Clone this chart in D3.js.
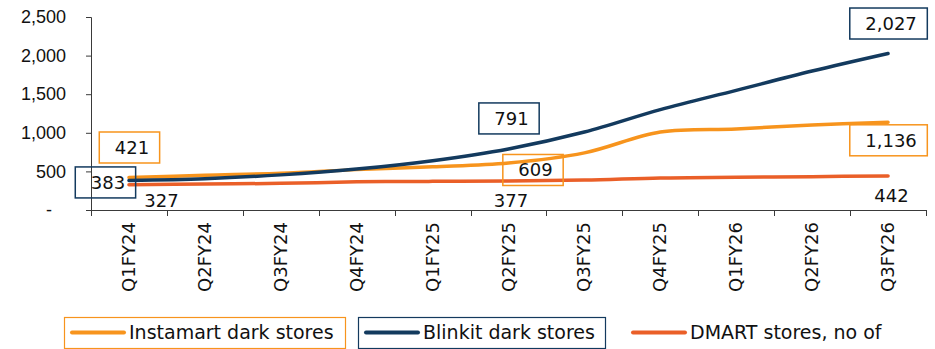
<!DOCTYPE html>
<html>
<head>
<meta charset="utf-8">
<script src="https://cdn.jsdelivr.net/npm/d3@7"></script>
<style>
  body { margin: 0; background: #fff; }
  svg { display: block; font-family: "DejaVu Sans", Verdana, sans-serif; }
  .axis path, .axis line { stroke: #3a3a3a; }
  .axis text { fill: #111; font-size: 18px; }
</style>
</head>
<body>
<svg id="chart" width="935" height="349"></svg>
<script>
const quarters = ["Q1FY24", "Q2FY24", "Q3FY24", "Q4FY24", "Q1FY25", "Q2FY25",
                  "Q3FY25", "Q4FY25", "Q1FY26", "Q2FY26", "Q3FY26"];

const instamart = [421, 450, 475, 523, 560, 609, 740, 1010, 1050, 1100, 1136];
const blinkit   = [383, 405, 455, 530, 639, 791, 1010, 1300, 1550, 1800, 2027];
const dmart     = [327, 336, 345, 365, 371, 377, 387, 415, 424, 432, 442];

const yTicks = [0, 500, 1000, 1500, 2000, 2500];

const seriesNames = ["Instamart dark stores", "Blinkit dark stores", "DMART stores, no of"];
const seriesColors = ["#f7941d", "#133a5e", "#ea5f28"];

const series = [
    {name: seriesNames[0], color: seriesColors[0], values: instamart},
    {name: seriesNames[1], color: seriesColors[1], values: blinkit},
    {name: seriesNames[2], color: seriesColors[2], values: dmart}
];

// which points get a value label, and where it sits relative to the point
const labels = [
    {s: 0, i: 0,  dx: 0.5,  dy: -30, box: true},
    {s: 1, i: 0,  dx: -23.5, dy: 2,  box: true},
    {s: 2, i: 0,  dx: 32.5, dy: 22,  box: false},
    {s: 1, i: 5,  dx: 0.5,  dy: -30.5, box: true},
    {s: 0, i: 5,  dx: 24.5, dy: 7,   box: true},
    {s: 2, i: 5,  dx: 2.5,  dy: 26,  box: false},
    {s: 1, i: 10, dx: 0.5,  dy: -30, box: true},
    {s: 0, i: 10, dx: 0.5,  dy: 18,  box: true},
    {s: 2, i: 10, dx: 3.5,  dy: 26,  box: false}
];

const svg = d3.select("#chart");
const fmt = d3.format(",");

let x = d3.scaleBand().domain(quarters).range([91, 926]);
let y = d3.scaleLinear().domain([0, 2500]).range([210, 17]);
let cx = q => x(q) + x.bandwidth() / 2;

// y axis
let yAxis = svg.append("g")
    .attr("class", "axis")
    .attr("transform", "translate(91,0)")
    .call(d3.axisLeft(y).tickValues(yTicks).tickSize(5).tickPadding(20)
        .tickFormat(d => d == 0 ? "-" : fmt(d)));
yAxis.selectAll("text").filter(d => d == 0).attr("dx", -14);

// x axis, ticks on category boundaries
let xAxis = svg.append("g")
    .attr("class", "axis")
    .attr("transform", "translate(0,210)");
xAxis.append("line").attr("x1", 91).attr("x2", 926).attr("y1", 0.5).attr("y2", 0.5);
xAxis.selectAll(".bound").data(d3.range(quarters.length + 1)).enter().append("line")
    .attr("class", "bound")
    .attr("x1", i => Math.round(91 + i * x.bandwidth()) + 0.5)
    .attr("x2", i => Math.round(91 + i * x.bandwidth()) + 0.5)
    .attr("y1", 0).attr("y2", 6);
xAxis.selectAll(".qlab").data(quarters).enter().append("text")
    .attr("class", "qlab")
    .attr("transform", d => `translate(${cx(d) + 6},12) rotate(-90)`)
    .attr("text-anchor", "end")
    .text(d => d);

// lines
let line = d3.line()
    .x((d, i) => cx(quarters[i]))
    .y(d => y(d))
    .curve(d3.curveCatmullRom.alpha(0.5));

// draw DMART first, then Instamart, Blinkit on top
[2, 0, 1].forEach(k => {
    svg.append("path")
        .attr("d", line(series[k].values))
        .attr("fill", "none")
        .attr("stroke", series[k].color)
        .attr("stroke-width", 3.5)
        .attr("stroke-linecap", "round")
        .attr("stroke-linejoin", "round");
});

// value labels (boxes are outline only, lines show through)
let lab = svg.append("g");
labels.forEach(l => {
    let s = series[l.s];
    let v = s.values[l.i];
    let px = cx(quarters[l.i]) + l.dx;
    let py = y(v) + l.dy;
    if (l.box) {
        let t = lab.append("text")
            .attr("x", px + 2.5).attr("y", py + 6.5)
            .attr("text-anchor", "middle")
            .attr("font-size", 18).attr("fill", "#111")
            .text(fmt(v));
        let w = t.node().getComputedTextLength() + 26;
        lab.insert("rect", "text")
            .attr("x", px - w / 2).attr("y", py - 15.5)
            .attr("width", w).attr("height", 31)
            .attr("fill", "none")
            .attr("stroke", s.color).attr("stroke-width", 1.5);
    } else {
        lab.append("text")
            .attr("x", px).attr("y", py)
            .attr("text-anchor", "middle")
            .attr("font-size", 18).attr("fill", "#111")
            .text(fmt(v));
    }
});

// legend
const legendItems = [
    {x: 64, w: 281, box: true},
    {x: 358, w: 247, box: true},
    {x: 625, w: 0, box: false}
];
let legend = svg.append("g").attr("transform", "translate(0,317)");
series.forEach((s, k) => {
    let it = legendItems[k];
    let g = legend.append("g").attr("transform", `translate(${it.x},0)`);
    if (it.box) {
        g.append("rect").attr("x", 0.5).attr("y", 0.5)
            .attr("width", it.w).attr("height", 31)
            .attr("fill", "none")
            .attr("stroke", s.color).attr("stroke-width", 1.2);
    }
    g.append("line")
        .attr("x1", 8).attr("x2", 60).attr("y1", 15.5).attr("y2", 15.5)
        .attr("stroke", s.color).attr("stroke-width", 4)
        .attr("stroke-linecap", "round");
    g.append("text")
        .attr("x", 65).attr("y", 22)
        .attr("font-size", 19).attr("fill", "#111")
        .text(s.name);
});
</script>
</body>
</html>
